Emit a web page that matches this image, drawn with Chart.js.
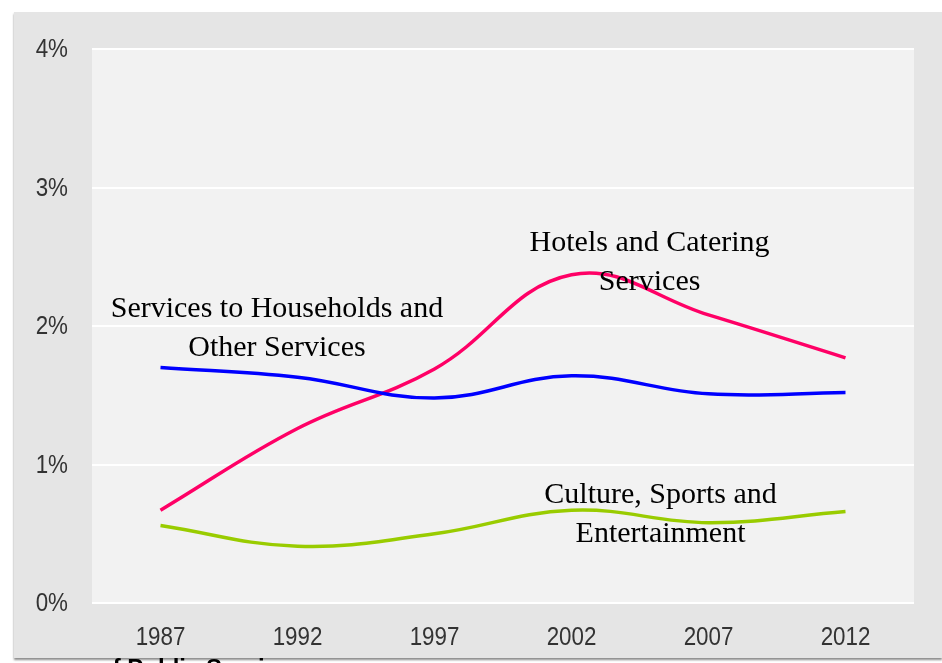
<!DOCTYPE html>
<html>
<head>
<meta charset="utf-8">
<script src="https://cdn.jsdelivr.net/npm/chart.js@4.4.0/dist/chart.umd.min.js"></script>
<style>
  html, body { margin: 0; padding: 0; background: #ffffff; width: 942px; height: 663px; overflow: hidden; position: relative; }
  #frame { position: absolute; left: 14px; top: 12px; width: 928px; height: 646px; background: #e5e5e5; box-shadow: 0 2px 2px rgba(0,0,0,0.45); }
  #frame canvas { display: block; }
  #foot { position: absolute; left: 98px; top: 654px; font-family: "Liberation Sans", Arial, sans-serif; font-weight: bold; font-size: 24px; color: #000; white-space: nowrap; }
</style>
</head>
<body>
<div id="frame"><canvas id="c" width="928" height="646"></canvas></div>
<div id="foot">of Public Services</div>
<script>
const years = ["1987", "1992", "1997", "2002", "2007", "2012"];
const householdServices = [1.70, 1.63, 1.48, 1.64, 1.51, 1.52];
const hotelsCatering = [0.67, 1.26, 1.69, 2.37, 2.08, 1.77];
const cultureSports = [0.56, 0.41, 0.50, 0.67, 0.58, 0.66];
const yTicks = [0, 1, 2, 3, 4];
const seriesNames = ["Services to Households and Other Services", "Hotels and Catering Services", "Culture, Sports and Entertainment"];
// annotation text lines with anchors in data units (category index, value)
const labelLines = [
  { lines: ["Services to Households and", "Other Services"], x: 0.85, y: 1.98 },
  { lines: ["Hotels and Catering", "Services"], x: 3.57, y: 2.46 },
  { lines: ["Culture, Sports and", "Entertainment"], x: 3.65, y: 0.64 }
];

const bgPlugin = {
  id: 'bg',
  beforeDraw(chart) {
    const { ctx, chartArea: a } = chart;
    ctx.save();
    ctx.fillStyle = '#f2f2f2';
    ctx.fillRect(a.left, a.top, a.right - a.left, a.bottom - a.top);
    ctx.restore();
  }
};

const TICK_FONT = '26px "Liberation Sans", Arial, sans-serif';
const SQUEEZE = 0.86;
function condensedText(ctx, text, x, y, align) {
  ctx.save();
  ctx.translate(x, y);
  ctx.scale(SQUEEZE, 1);
  ctx.textAlign = align;
  ctx.fillText(text, 0, 0);
  ctx.restore();
}

const tickPlugin = {
  id: 'condensedTicks',
  afterDraw(chart) {
    const { ctx, scales } = chart;
    ctx.save();
    ctx.font = TICK_FONT;
    ctx.fillStyle = '#333333';
    ctx.textBaseline = 'middle';
    scales.y.ticks.forEach(t => {
      condensedText(ctx, t.value + '%', scales.y.right - 24, scales.y.getPixelForValue(t.value) + 1, 'right');
    });
    years.forEach((lab, i) => {
      condensedText(ctx, lab, scales.x.getPixelForValue(i), scales.x.top + 35, 'center');
    });
    ctx.restore();
  }
};

const textPlugin = {
  id: 'seriesText',
  afterDatasetsDraw(chart) {
    const { ctx, scales } = chart;
    ctx.save();
    ctx.font = '30px "Liberation Serif", "Times New Roman", serif';
    ctx.fillStyle = '#000000';
    ctx.textAlign = 'center';
    ctx.textBaseline = 'middle';
    const lh = 39;
    labelLines.forEach(l => {
      const cx = scales.x.getPixelForValue(l.x);
      const cy = scales.y.getPixelForValue(l.y);
      const n = l.lines.length;
      l.lines.forEach((t, i) => {
        ctx.fillText(t, cx, cy + (i - (n - 1) / 2) * lh);
      });
    });
    ctx.restore();
  }
};

new Chart(document.getElementById('c'), {
  type: 'line',
  data: {
    labels: years,
    datasets: [
      { label: seriesNames[0], data: householdServices, borderColor: '#0000ff', borderWidth: 3.5, pointRadius: 0, tension: 0.4, fill: false },
      { label: seriesNames[1], data: hotelsCatering, borderColor: '#ff0066', borderWidth: 3.5, pointRadius: 0, tension: 0.4, fill: false },
      { label: seriesNames[2], data: cultureSports, borderColor: '#99cc00', borderWidth: 3.5, pointRadius: 0, tension: 0.4, fill: false }
    ]
  },
  options: {
    responsive: false,
    animation: false,
    devicePixelRatio: 1,
    layout: { padding: { top: 37, right: 28, left: 0, bottom: 0 } },
    plugins: { legend: { display: false }, tooltip: { enabled: false } },
    scales: {
      x: {
        offset: true,
        grid: { display: false, drawTicks: false },
        border: { display: false },
        ticks: { display: false },
        afterFit(s) { s.height = 55; }
      },
      y: {
        min: 0, max: 4,
        afterBuildTicks(s) { s.ticks = yTicks.map(v => ({ value: v })); },
        grid: { color: '#ffffff', lineWidth: 2, drawTicks: false },
        border: { display: false },
        ticks: { display: false },
        afterFit(s) { s.width = 78; }
      }
    }
  },
  plugins: [bgPlugin, textPlugin, tickPlugin]
});
</script>
</body>
</html>
